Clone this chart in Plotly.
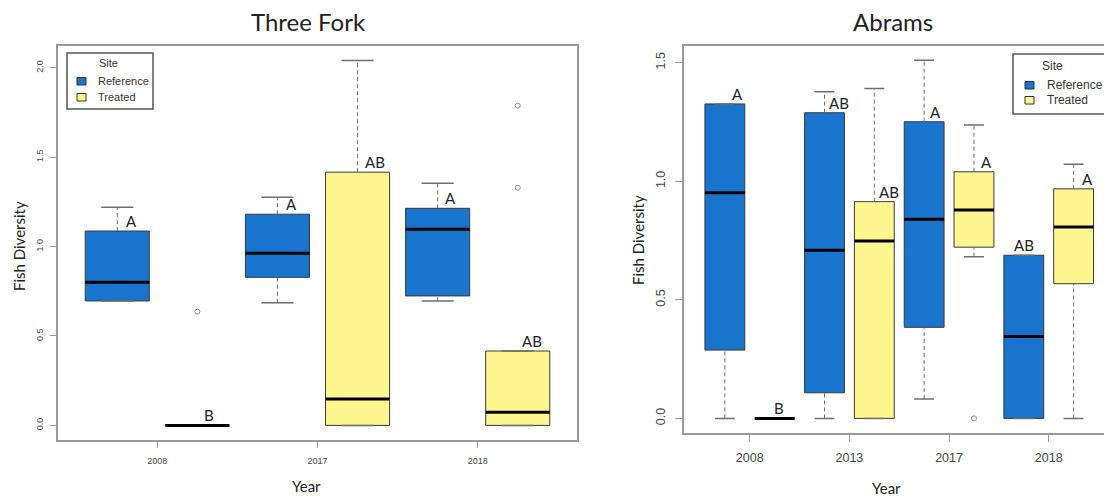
import plotly.graph_objects as go

W, H = 1104, 496

REF_COLOR = "#1874CD"
TRT_COLOR = "#FFF68F"
SITES = ["Reference", "Treated"]

# ---- Three Fork: five-number summaries per year ----
tf_years = ["2008", "2017", "2018"]
tf_ref_lower = [0.696, 0.686, 0.696]
tf_ref_q1 = [0.696, 0.828, 0.724]
tf_ref_median = [0.800, 0.963, 1.097]
tf_ref_q3 = [1.087, 1.181, 1.214]
tf_ref_upper = [1.220, 1.276, 1.354]
tf_ref_outliers = [[], [], []]
tf_ref_letters = ["A", "A", "A"]

tf_trt_lower = [0.0, 0.0, 0.0]
tf_trt_q1 = [0.0, 0.0, 0.0]
tf_trt_median = [0.0, 0.148, 0.073]
tf_trt_q3 = [0.0, 1.416, 0.416]
tf_trt_upper = [0.0, 2.04, 0.416]
tf_trt_outliers = [[0.636], [], [1.329, 1.788]]
tf_trt_letters = ["B", "AB", "AB"]

# ---- Abrams: five-number summaries per year ----
ab_years = ["2008", "2013", "2017", "2018"]
ab_ref_lower = [0.0, 0.0, 0.082, 0.0]
ab_ref_q1 = [0.288, 0.108, 0.384, 0.0]
ab_ref_median = [0.952, 0.709, 0.840, 0.345]
ab_ref_q3 = [1.326, 1.289, 1.251, 0.688]
ab_ref_upper = [1.326, 1.377, 1.51, 0.688]
ab_ref_outliers = [[], [], [], []]
ab_ref_letters = ["A", "AB", "A", "AB"]

ab_trt_lower = [0.0, 0.0, 0.682, 0.0]
ab_trt_q1 = [0.0, 0.0, 0.722, 0.568]
ab_trt_median = [0.0, 0.748, 0.879, 0.807]
ab_trt_q3 = [0.0, 0.914, 1.040, 0.968]
ab_trt_upper = [0.0, 1.391, 1.237, 1.072]
ab_trt_outliers = [[], [], [0.0], []]
ab_trt_letters = ["B", "AB", "A", "A"]

# horizontal nudge of the significance letters (in box units)
tf_letter_nudge = [0.18, 0.14, 0.17, 0.22, 0.16, 0.18]
ab_letter_nudge = [0.26, 0.08, 0.30, 0.29, 0.23, 0.25, 0.0, 0.27]

BOX_W = 0.8
BORDER = "#3a3a3a"
WHISK = "#6e6e6e"
FRAME = "#9a9a9a"
TXT = "#222222"


def px_x(p):
    return p / W


def px_y(p):
    return 1 - p / H


def add_boxes(fig, xa, ya, pos, lower, q1, med, q3, upper, outs, fill):
    bx, by, mx, my, wx, wy, sx, sy, ox, oy = ([] for _ in range(10))
    for c, lo, a, m, b, hi, o in zip(pos, lower, q1, med, q3, upper, outs):
        l, r = c - BOX_W / 2, c + BOX_W / 2
        bx += [l, r, r, l, l, None]
        by += [a, a, b, b, a, None]
        mx += [l, r, None]
        my += [m, m, None]
        if hi > b:
            wx += [c, c, None]
            wy += [b, hi, None]
        if lo < a:
            wx += [c, c, None]
            wy += [lo, a, None]
        sx += [c - BOX_W / 4, c + BOX_W / 4, None, c - BOX_W / 4, c + BOX_W / 4, None]
        sy += [hi, hi, None, lo, lo, None]
        for v in o:
            ox.append(c)
            oy.append(v)
    common = dict(xaxis=xa, yaxis=ya, showlegend=False, hoverinfo="skip")
    fig.add_trace(go.Scatter(x=bx, y=by, mode="lines", fill="toself", fillcolor=fill,
                             line=dict(color=BORDER, width=1), **common))
    if wx:
        fig.add_trace(go.Scatter(x=wx, y=wy, mode="lines",
                                 line=dict(color=WHISK, width=1, dash="4px,3px"), **common))
    fig.add_trace(go.Scatter(x=sx, y=sy, mode="lines",
                             line=dict(color=WHISK, width=1.5), **common))
    fig.add_trace(go.Scatter(x=mx, y=my, mode="lines",
                             line=dict(color="black", width=3), **common))
    if ox:
        fig.add_trace(go.Scatter(x=ox, y=oy, mode="markers",
                                 marker=dict(symbol="circle-open", size=5, color="#8a8a8a",
                                             line=dict(width=1)), **common))


def panel(fig, xa, ya, years, ref, trt, letters, nudge, font_sz):
    n = len(years)
    ref_pos = [2 * i + 1 for i in range(n)]
    trt_pos = [2 * i + 2 for i in range(n)]
    add_boxes(fig, xa, ya, ref_pos, *ref, REF_COLOR)
    add_boxes(fig, xa, ya, trt_pos, *trt, TRT_COLOR)
    ann = []
    for i in range(n):
        for p, q3v, lab in ((ref_pos[i], ref[3][i], letters[0][i]),
                            (trt_pos[i], trt[3][i], letters[1][i])):
            ann.append(dict(x=p + nudge[p - 1], y=q3v, xref=xa, yref=ya, text=lab,
                            showarrow=False, yanchor="middle", yshift=10,
                            font=dict(family="Lato", size=font_sz, color=TXT)))
    return ann


fig = go.Figure()

ann = []
ann += panel(fig, "x", "y", tf_years,
             (tf_ref_lower, tf_ref_q1, tf_ref_median, tf_ref_q3, tf_ref_upper, tf_ref_outliers),
             (tf_trt_lower, tf_trt_q1, tf_trt_median, tf_trt_q3, tf_trt_upper, tf_trt_outliers),
             (tf_ref_letters, tf_trt_letters), tf_letter_nudge, 15)
ann += panel(fig, "x2", "y2", ab_years,
             (ab_ref_lower, ab_ref_q1, ab_ref_median, ab_ref_q3, ab_ref_upper, ab_ref_outliers),
             (ab_trt_lower, ab_trt_q1, ab_trt_median, ab_trt_q3, ab_trt_upper, ab_trt_outliers),
             (ab_ref_letters, ab_trt_letters), ab_letter_nudge, 15)

tick_font_s = dict(family="Liberation Sans, Arial", size=9, color="#444")
tick_font_l = dict(family="Liberation Sans, Arial", size=12.5, color="#444")

axis_common = dict(showgrid=False, zeroline=False, ticks="outside", tickcolor=FRAME,
                   tickwidth=1, showline=True, linecolor=FRAME, linewidth=2)

fig.update_layout(
    width=W, height=H, margin=dict(l=0, r=0, t=0, b=0),
    paper_bgcolor="white", plot_bgcolor="white", showlegend=False,
    xaxis=dict(domain=[px_x(58), px_x(577)], range=[0.26, 6.74], anchor="y",
               tickmode="array", tickvals=[2 * i + 1.5 for i in range(len(tf_years))],
               ticktext=tf_years, ticklen=6, tickfont=tick_font_s, mirror=True,
               ticklabelstandoff=5, **axis_common),
    yaxis=dict(domain=[px_y(440), px_y(46)], range=[-0.0816, 2.1216], anchor="x",
               tickmode="array", tickvals=[0, 0.5, 1.0, 1.5, 2.0], tickformat=".1f",
               tickangle=-90, ticklen=6, tickfont=tick_font_s, mirror=True,
               ticklabelstandoff=3, **axis_common),
    xaxis2=dict(domain=[px_x(684), 1.0], range=[0.18, 8.61], anchor="y2",
                tickmode="array", tickvals=[2 * i + 1.5 for i in range(len(ab_years))],
                ticktext=ab_years, ticklen=7, tickfont=tick_font_l, mirror=True,
                ticklabelstandoff=5, **axis_common),
    yaxis2=dict(domain=[px_y(432.7), px_y(46)], range=[-0.0604, 1.5704], anchor="x2",
                tickmode="array", tickvals=[0, 0.5, 1.0, 1.5], tickformat=".1f",
                tickangle=-90, ticklen=7, tickfont=tick_font_l, mirror=False,
                ticklabelstandoff=5, **axis_common),
)

# panel titles and axis titles
title_font = dict(family="Lato", size=24, color=TXT)
lab_font = dict(family="Lato", size=15, color=TXT)
texts = [
    ("Three Fork", 308, 21, title_font, 0),
    ("Abrams", 893, 21, title_font, 0),
    ("Fish Diversity", 19, 246, lab_font, -90),
    ("Fish Diversity", 638, 240, lab_font, -90),
    ("Year", 306, 486, lab_font, 0),
    ("Year", 886, 488, lab_font, 0),
]
for t, x, y, f, ang in texts:
    ann.append(dict(x=px_x(x), y=px_y(y), xref="paper", yref="paper", text=t,
                    showarrow=False, xanchor="center", yanchor="middle",
                    textangle=ang, font=f))

# site legends drawn inside each panel
shapes = []
legends = [
    dict(box=(67, 53, 153, 109), title_xy=(108, 63), sq_x=(77, 86), rows=(81, 97),
         txt_x=96, size=11),
    dict(box=(1013, 54, 1112, 114), title_xy=(1052, 66), sq_x=(1025, 1034), rows=(85, 100),
         txt_x=1045, size=12),
]
for lg in legends:
    x0, y0, x1, y1 = lg["box"]
    shapes.append(dict(type="rect", xref="paper", yref="paper", x0=px_x(x0), x1=px_x(x1),
                       y0=px_y(y1), y1=px_y(y0), line=dict(color="#555", width=1.5),
                       fillcolor="white", layer="above"))
    lf = dict(family="Liberation Sans, Arial", size=lg["size"], color="#333")
    ann.append(dict(x=px_x(lg["title_xy"][0]), y=px_y(lg["title_xy"][1]), xref="paper",
                    yref="paper", text="Site", showarrow=False, font=lf,
                    xanchor="center", yanchor="middle"))
    for site, col, ry in zip(SITES, [REF_COLOR, TRT_COLOR], lg["rows"]):
        shapes.append(dict(type="rect", xref="paper", yref="paper",
                           x0=px_x(lg["sq_x"][0]), x1=px_x(lg["sq_x"][1]),
                           y0=px_y(ry + 4), y1=px_y(ry - 3.5), fillcolor=col,
                           line=dict(color="#333", width=1), layer="above"))
        ann.append(dict(x=px_x(lg["txt_x"]), y=px_y(ry), xref="paper", yref="paper",
                        text=site, showarrow=False, font=lf, xanchor="left",
                        yanchor="middle"))

fig.update_layout(annotations=ann, shapes=shapes)
fig.write_html("out.html")
